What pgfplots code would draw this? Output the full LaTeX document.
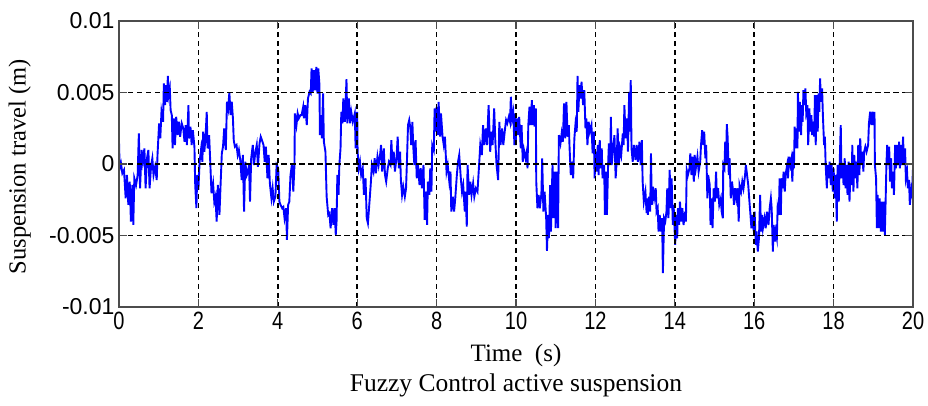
\documentclass[border=0pt]{standalone}
\usepackage{fontspec}
\setmainfont{Liberation Serif}
\newfontfamily\tickfont{Liberation Sans}
\newfontfamily\xtickfont{Liberation Sans}[FakeStretch=0.8]
\usepackage{pgfplots}
\pgfplotsset{compat=1.18}
\usepackage{pgfplotstable}
% t in s, v = suspension travel in mm
\pgfplotstableread{
t v
0.00 1.56
0.017 -0.30
0.05 0.05
0.084 -0.65
0.126 -0.42
0.168 -2.40
0.20 -0.77
0.235 -2.86
0.27 -1.23
0.30 -4.02
0.336 -1.47
0.36 -4.26
0.386 -1.00
0.43 -1.47
0.47 -0.77
0.50 2.14
0.53 -1.70
0.57 0.98
0.60 0.16
0.64 1.09
0.67 -1.70
0.705 0.40
0.74 0.98
0.77 -1.70
0.81 -0.07
0.84 0.40
0.87 -0.77
0.91 -0.19
0.95 -1.12
0.97 0.63
1.01 2.84
1.04 1.79
1.07 3.65
1.11 2.95
1.13 5.63
1.16 4.12
1.18 5.51
1.21 4.35
1.23 6.16
1.25 4.81
1.28 5.28
1.30 3.77
1.33 3.42
1.35 1.09
1.38 3.19
1.41 1.33
1.44 3.30
1.48 2.02
1.51 2.95
1.54 1.91
1.58 2.84
1.62 2.49
1.65 1.56
1.68 2.72
1.71 1.33
1.75 4.12
1.76 1.79
1.80 2.61
1.83 1.33
1.86 2.37
1.90 1.21
1.92 -1.47
1.95 -3.09
1.97 -0.77
2.00 -1.81
2.03 0.16
2.07 1.09
2.10 0.16
2.12 2.26
2.15 0.86
2.18 1.91
2.21 3.65
2.23 1.09
2.27 2.02
2.30 0.05
2.33 -2.05
2.37 -1.35
2.40 -2.63
2.43 -2.28
2.46 -4.02
2.49 -1.47
2.53 -3.56
2.56 -1.35
2.59 0.74
2.62 1.21
2.65 2.49
2.69 0.98
2.72 4.35
2.75 3.88
2.78 5.00
2.81 3.42
2.84 4.35
2.87 3.19
2.89 1.67
2.92 1.21
2.96 1.33
2.99 0.63
3.02 0.98
3.06 0.16
3.09 -1.12
3.12 0.63
3.15 -3.33
3.18 0.16
3.22 -0.77
3.25 -0.53
3.275 -0.07
3.30 -2.63
3.33 0.40
3.37 1.33
3.40 -0.07
3.43 0.74
3.47 1.33
3.50 -0.19
3.54 1.44
3.57 1.91
3.60 1.67
3.64 1.33
3.67 0.16
3.70 1.21
3.74 -1.00
3.77 0.63
3.80 -1.35
3.84 -2.40
3.87 -1.70
3.90 -2.63
3.94 -2.28
3.97 -0.07
4.01 -0.30
4.04 -2.63
4.07 -2.86
4.11 -3.09
4.14 -3.00
4.17 -3.79
4.21 -3.09
4.23 -5.30
4.26 -2.86
4.29 -2.63
4.32 -0.77
4.36 0.05
4.39 -1.93
4.42 -0.07
4.43 3.54
4.47 2.72
4.50 3.54
4.53 3.19
4.57 3.42
4.60 3.42
4.64 4.00
4.66 3.19
4.69 4.12
4.73 2.72
4.76 4.58
4.80 5.05
4.83 4.93
4.85 6.68
4.88 5.05
4.91 6.56
4.94 5.16
4.97 6.79
5.00 4.93
5.02 6.68
5.05 5.51
5.06 2.02
5.09 3.42
5.11 1.79
5.14 4.93
5.16 1.56
5.20 0.86
5.23 -2.28
5.27 -3.56
5.30 -3.44
5.33 -4.49
5.37 -3.09
5.40 -4.26
5.43 -3.09
5.46 -4.95
5.48 -4.02
5.50 -0.77
5.53 -2.16
5.55 -0.07
5.58 1.09
5.60 3.65
5.63 2.84
5.65 4.58
5.69 2.95
5.73 5.93
5.75 2.84
5.79 4.58
5.82 2.84
5.85 3.65
5.89 2.95
5.94 3.54
5.96 1.09
6.00 3.65
6.01 0.86
6.04 -0.30
6.07 0.16
6.10 -0.77
6.14 -0.30
6.17 -2.16
6.21 -1.00
6.24 -3.79
6.27 -4.14
6.31 -2.63
6.34 -1.47
6.37 -0.07
6.41 -0.53
6.44 0.40
6.47 -0.65
6.51 0.51
6.54 -0.07
6.58 0.74
6.60 1.33
6.63 -0.53
6.67 1.09
6.70 -0.77
6.73 -1.23
6.77 -0.30
6.80 0.16
6.84 -0.07
6.86 1.67
6.89 -0.07
6.92 0.86
6.95 -0.53
6.99 0.40
7.02 1.91
7.05 -0.30
7.08 0.86
7.10 -1.12
7.13 -2.16
7.16 -1.58
7.20 -2.28
7.23 -1.70
7.25 -0.07
7.28 2.72
7.31 3.07
7.34 2.49
7.36 1.33
7.39 2.95
7.41 1.33
7.44 -0.07
7.47 1.67
7.50 -1.00
7.53 -0.07
7.57 -1.47
7.60 -0.30
7.63 -1.70
7.67 -0.07
7.70 -3.91
7.73 -1.93
7.76 -4.26
7.78 -1.23
7.82 -2.16
7.84 -0.30
7.87 -1.93
7.89 1.33
7.93 0.98
7.95 3.88
7.98 2.26
8.00 4.00
8.03 2.02
8.05 4.35
8.09 1.91
8.11 3.54
8.15 1.91
8.18 1.33
8.21 1.91
8.25 -0.53
8.28 -0.07
8.32 -1.23
8.35 -0.53
8.37 -3.33
8.41 -2.28
8.44 -3.33
8.47 -2.40
8.51 -0.77
8.54 0.16
8.57 0.63
8.61 -1.00
8.64 -1.93
8.67 -1.47
8.71 -3.33
8.73 -1.93
8.76 -4.37
8.78 -0.07
8.82 -2.16
8.85 -1.23
8.88 -2.16
8.92 -1.35
8.95 -2.28
8.99 -1.70
9.03 -1.93
9.07 -0.07
9.10 1.33
9.14 0.63
9.17 2.72
9.20 1.33
9.24 2.49
9.27 1.33
9.31 4.12
9.35 0.86
9.38 2.26
9.41 1.33
9.45 3.88
9.48 1.56
9.51 -0.07
9.55 -1.12
9.58 2.95
9.61 1.33
9.65 2.49
9.68 1.33
9.72 2.37
9.75 3.07
9.78 2.84
9.82 3.30
9.85 2.95
9.87 4.70
9.90 3.19
9.93 3.65
9.96 1.33
9.97 3.54
9.99 1.33
10.02 3.19
10.05 2.02
10.08 3.30
10.12 1.09
10.14 2.72
10.17 0.16
10.20 0.98
10.24 0.40
10.27 0.86
10.29 -0.30
10.31 2.72
10.34 4.00
10.37 2.72
10.40 4.47
10.42 2.72
10.45 4.12
10.47 2.61
10.50 3.88
10.51 -1.23
10.54 -3.09
10.57 -2.16
10.60 -3.09
10.64 -2.05
10.66 0.40
10.69 -3.33
10.72 -1.93
10.76 -3.79
10.78 -6.07
10.81 -3.56
10.83 -5.19
10.86 -1.47
10.88 -4.72
10.92 -0.07
10.94 -3.79
10.97 -0.53
11.00 -4.49
11.02 -0.53
11.06 -4.49
11.08 2.02
11.12 1.44
11.15 2.14
11.18 1.56
11.21 4.23
11.24 1.79
11.27 4.35
11.30 1.91
11.33 2.72
11.35 1.09
11.38 -0.77
11.41 0.16
11.44 -1.00
11.47 1.79
11.50 2.84
11.53 2.26
11.55 6.16
11.57 3.65
11.60 5.51
11.63 4.58
11.65 5.75
11.69 4.12
11.72 5.16
11.75 2.49
11.77 3.19
11.80 1.33
11.83 2.95
11.86 2.26
11.90 2.72
11.93 0.74
11.96 2.26
11.98 -1.00
12.01 0.86
12.03 -0.53
12.06 1.33
12.08 -0.77
12.11 1.67
12.13 -0.30
12.16 1.09
12.18 -1.00
12.22 -0.07
12.24 -3.56
12.27 -0.53
12.29 -3.56
12.32 -0.07
12.34 1.44
12.37 -0.07
12.39 3.30
12.41 -0.07
12.44 0.86
12.48 2.02
12.51 -1.00
12.54 0.40
12.56 2.49
12.59 -0.07
12.62 1.09
12.65 0.63
12.69 2.14
12.71 1.33
12.73 4.12
12.76 1.79
12.80 3.19
12.82 0.86
12.85 5.05
12.87 2.26
12.89 5.86
12.91 1.09
12.94 0.16
12.97 1.33
13.01 0.28
13.04 1.33
13.07 0.16
13.11 1.56
13.14 -0.07
13.17 1.67
13.19 -1.23
13.22 -2.63
13.26 -1.93
13.29 -3.44
13.31 -2.40
13.32 -3.56
13.35 -2.28
13.38 -3.33
13.40 0.74
13.42 -2.86
13.45 -1.58
13.48 -2.40
13.52 -1.70
13.54 -3.33
13.57 -3.09
13.59 -4.72
13.62 -3.56
13.65 -4.72
13.68 -3.79
13.70 -7.63
13.73 -3.79
13.76 -4.02
13.79 -3.33
13.81 -1.70
13.84 -3.79
13.87 -0.42
13.90 -3.09
13.92 -1.00
13.95 -4.26
13.97 -2.86
14.01 -5.65
14.03 -3.56
14.06 -5.19
14.08 -3.09
14.11 -4.26
14.13 -2.63
14.16 -4.02
14.19 -3.09
14.22 -4.26
14.26 -3.33
14.28 -4.02
14.30 -0.42
14.33 -0.77
14.37 -0.30
14.39 0.74
14.42 -0.77
14.44 0.51
14.48 -1.23
14.50 0.63
14.53 -0.30
14.57 0.51
14.60 -0.53
14.64 0.16
14.66 1.33
14.69 2.37
14.72 1.33
14.74 2.26
14.77 0.40
14.79 1.33
14.82 -2.40
14.84 -0.77
14.88 -1.47
14.90 -4.26
14.93 -2.40
14.95 -4.49
14.98 -1.70
15.01 -2.63
15.04 -0.53
15.06 -2.40
15.09 -1.70
15.12 -2.86
15.16 -2.40
15.18 -3.33
15.21 -3.79
15.22 -0.07
15.25 -0.30
15.27 1.56
15.29 -0.07
15.31 2.79
15.33 1.91
15.36 -0.77
15.38 0.40
15.41 -2.40
15.44 -1.23
15.47 -1.93
15.49 -2.86
15.52 -1.70
15.55 -2.40
15.58 -1.70
15.61 -4.02
15.63 -1.47
15.67 -1.93
15.70 -1.23
15.73 -1.70
15.77 -0.77
15.79 -0.07
15.83 -1.00
15.85 -1.47
15.88 -2.63
15.90 -3.33
15.93 -4.49
15.95 -3.56
15.99 -4.72
16.01 -3.33
16.04 -5.65
16.06 -4.72
16.09 -6.12
16.12 -5.19
16.15 -2.16
16.17 -4.72
16.20 -3.56
16.22 -4.49
16.26 -3.79
16.29 -4.49
16.32 -3.33
16.36 -4.26
16.39 -3.09
16.42 -2.40
16.44 -3.09
16.47 -6.12
16.49 -4.26
16.52 -5.42
16.54 -4.72
16.57 -5.19
16.59 -3.09
16.62 -3.56
16.64 -1.00
16.66 -3.33
16.67 -3.56
16.69 -1.00
16.72 -1.70
16.74 -0.53
16.77 -1.93
16.79 -0.77
16.83 -0.07
16.85 -1.00
16.88 0.51
16.91 -0.07
16.94 0.40
16.96 -1.23
16.99 0.86
17.00 -0.30
17.02 2.61
17.04 1.09
17.07 2.49
17.09 1.09
17.10 5.05
17.13 2.26
17.15 4.35
17.18 2.02
17.20 4.12
17.22 2.95
17.24 5.16
17.26 4.12
17.29 5.28
17.31 3.65
17.34 4.12
17.36 1.33
17.39 3.88
17.41 2.26
17.44 3.42
17.46 2.02
17.49 2.95
17.51 1.91
17.53 4.81
17.55 1.33
17.57 4.81
17.60 2.26
17.62 4.93
17.64 3.65
17.66 5.98
17.68 4.35
17.71 5.28
17.73 3.42
17.76 1.33
17.78 1.91
17.80 -0.07
17.83 -1.70
17.85 -0.07
17.88 -1.00
17.90 0.16
17.93 -1.47
17.95 -0.07
17.98 -1.93
18.00 -0.30
18.03 -2.40
18.05 -0.77
18.08 -4.02
18.10 -0.07
18.13 -2.63
18.15 -0.30
18.18 2.72
18.20 -1.00
18.23 -0.07
18.25 -1.47
18.28 0.40
18.30 -1.70
18.33 -0.07
18.35 -2.16
18.38 0.16
18.40 -2.63
18.43 -0.07
18.46 -1.47
18.47 1.33
18.50 -1.93
18.52 0.63
18.55 -1.00
18.57 0.16
18.60 -1.70
18.62 1.33
18.65 -0.77
18.67 1.79
18.70 -0.07
18.72 0.86
18.75 -0.53
18.77 0.86
18.80 1.21
18.83 0.86
18.87 1.33
18.89 2.84
18.92 3.65
18.95 2.72
18.98 3.65
19.01 2.72
19.03 3.65
19.04 -0.07
19.07 -1.00
19.09 -4.49
19.11 -2.16
19.14 -4.49
19.16 -2.40
19.19 -4.72
19.21 -2.63
19.24 -4.72
19.26 -2.63
19.29 -4.95
19.31 -2.63
19.33 -0.07
19.35 1.33
19.37 -0.07
19.40 1.21
19.42 -1.23
19.45 0.40
19.47 -1.70
19.50 -0.53
19.52 -2.16
19.55 1.33
19.57 -0.30
19.60 1.33
19.62 -0.07
19.65 1.56
19.67 -0.30
19.70 1.33
19.72 -0.07
19.75 1.91
19.77 -0.07
19.80 1.09
19.82 -1.00
19.85 -0.53
19.87 -1.70
19.90 -1.12
19.92 -2.86
19.95 -1.93
19.97 -2.40
20.00 -0.30
}\datatable
\begin{document}
\begin{tikzpicture}
\begin{axis}[
  width=794pt, height=286pt, scale only axis,
  xmin=0, xmax=20, ymin=-0.01, ymax=0.01,
  xtick={0,2,...,20},
  xticklabels={0,2,4,6,8,10,12,14,16,18,20},
  ytick={-0.01,-0.005,0,0.005,0.01},
  yticklabels={-0.01,-0.005,0,0.005,0.01},
  scaled y ticks=false, scaled x ticks=false,
  tick align=inside, major tick length=8pt,
  axis line style={black!70, line width=1.4pt},
  every tick/.style={black!70, line width=1.2pt},
  grid=major,
  major grid style={black, line width=1.6pt, dash pattern=on 5.5pt off 3.5pt},
  axis on top,
  /pgf/number format/assume math mode=true,
  yticklabel style={font=\tickfont\fontsize{23}{23}\selectfont, xshift=-1pt},
  xticklabel style={font=\xtickfont\fontsize{25}{25}\selectfont, yshift=-2pt},
  xlabel={Time\ \ (s)},
  xlabel style={font=\fontsize{25}{25}\selectfont, at={(axis description cs:0.5,-0.168)}, anchor=center},
  ylabel={Suspension travel (m)},
  ylabel style={font=\fontsize{24.5}{24.5}\selectfont, at={(axis description cs:-0.125,0.49)}, anchor=center},
  every axis title shift=0pt,
  title={Fuzzy Control active suspension},
  title style={font=\fontsize{25.5}{25.5}\selectfont, at={(axis description cs:0.5,-0.275)}, anchor=center},
]
\addplot[color={rgb,255:red,0;green,0;blue,255}, line width=1.9pt] table[x=t, y expr=\thisrow{v}*0.001] {\datatable};
\end{axis}
\path (-119pt,-98pt) rectangle (809pt,307pt);
\end{tikzpicture}
\end{document}
